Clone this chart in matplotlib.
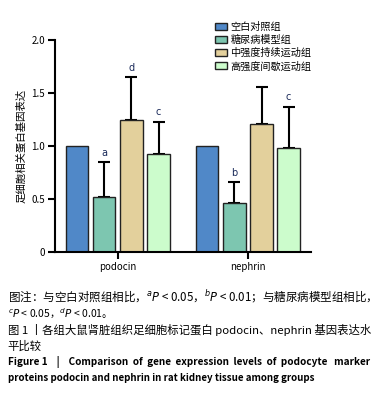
import matplotlib
matplotlib.use("Agg")
import matplotlib.pyplot as plt
import numpy as np

plt.rcParams['font.family'] = ['Noto Sans CJK SC', 'DejaVu Sans']
plt.rcParams['mathtext.fontset'] = 'dejavusans'

genes = ["podocin", "nephrin"]
groups = ["空白对照组", "糖尿病模型组", "中强度持续运动组", "高强度间歇运动组"]
colors = ["#5088c8", "#7dc6b0", "#e3d09c", "#ccfccc"]
means = [[1.0, 0.52, 1.24, 0.92],
         [1.0, 0.46, 1.21, 0.98]]
errs = [[0.0, 0.33, 0.41, 0.31],
        [0.0, 0.20, 0.35, 0.39]]
marks = [["", "a", "d", "c"],
         ["", "b", "", "c"]]
yticks = [0, 0.5, 1.0, 1.5, 2.0]
ytick_labels = ["0", "0.5", "1.0", "1.5", "2.0"]

fig = plt.figure(figsize=(3.84, 3.95), dpi=100)
ax = fig.add_axes([0.143, 0.362, 0.667, 0.537])

x = np.arange(len(genes))
width = 0.17
step = 0.208
for i, grp in enumerate(groups):
    pos = x + (i - 1.5) * step
    vals = [means[g][i] for g in range(len(genes))]
    up = [errs[g][i] for g in range(len(genes))]
    ax.bar(pos, vals, width, color=colors[i], edgecolor="#222222", linewidth=1.0,
           label=grp, zorder=2)
    for g in range(len(genes)):
        if up[g] > 0:
            ax.errorbar(pos[g], vals[g], yerr=[[0], [up[g]]], fmt="none",
                        ecolor="black", elinewidth=1.5, capsize=4, capthick=1.5, zorder=1)
        if marks[g][i]:
            ax.text(pos[g], vals[g] + up[g] + 0.04, marks[g][i], ha="center",
                    va="bottom", fontsize=7, color="#1a2a5a", family="DejaVu Sans")

ax.set_xlim(-0.485, 1.485)
ax.set_ylim(0, 2.0)
ax.set_yticks(yticks)
ax.set_yticklabels(ytick_labels, fontsize=7)
ax.set_xticks(x)
ax.set_xticklabels(genes, fontsize=7)
ax.tick_params(axis="both", width=1.5, length=5, direction="out", pad=2)
ax.spines["top"].set_visible(False)
ax.spines["right"].set_visible(False)
ax.spines["left"].set_linewidth(1.5)
ax.spines["bottom"].set_linewidth(1.5)
ax.set_ylabel("足细胞相关蛋白基因表达", fontsize=7.5, labelpad=4)

ax.legend(loc="upper left", bbox_to_anchor=(0.55, 0.955), bbox_transform=fig.transFigure,
          frameon=False, fontsize=7.3, handlelength=1.2, handleheight=0.7,
          handletextpad=0.3, labelspacing=0.3, borderaxespad=0)

fig.text(0.02, 0.25, "图注：与空白对照组相比，$^{a}$$\\it{P}$ < 0.05，$^{b}$$\\it{P}$ < 0.01；与糖尿病模型组相比，",
         fontsize=8.3, va="center")
fig.text(0.02, 0.207, "$^{c}$$\\it{P}$ < 0.05，$^{d}$$\\it{P}$ < 0.01。", fontsize=7.5, va="center")
fig.text(0.02, 0.165, "图 1 丨各组大鼠肾脏组织足细胞标记蛋白 podocin、nephrin 基因表达水",
         fontsize=8.2, va="center")
fig.text(0.02, 0.124, "平比较", fontsize=8.2, va="center")
fig.text(0.02, 0.083, "Figure 1    |    Comparison  of  gene  expression  levels  of  podocyte   marker",
         fontsize=7.2, va="center", fontweight="bold")
fig.text(0.02, 0.043, "proteins podocin and nephrin in rat kidney tissue among groups",
         fontsize=7, va="center", fontweight="bold")

fig.savefig("out.png", dpi=100)
